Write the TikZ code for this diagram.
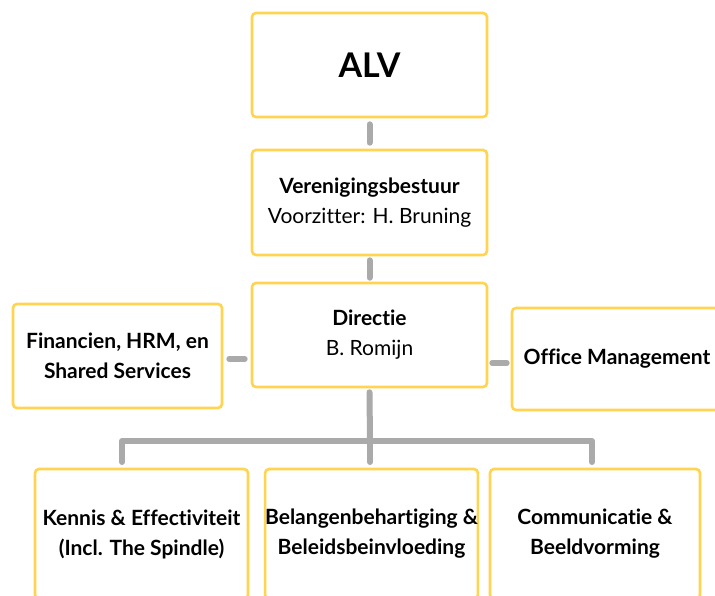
\documentclass[tikz,border=0pt]{standalone}
\usepackage{fontspec}
\setmainfont[Ligatures={NoCommon}]{Lato}
\definecolor{boxyellow}{HTML}{FFD451}
\definecolor{linegray}{HTML}{AAAAAA}
\tikzset{
  orgbox/.style={draw=boxyellow, line width=2.6pt, rounded corners=4pt, fill=white, align=center, inner sep=0pt, font=\fontsize{21}{30}\selectfont},
  conn/.style={draw=linegray, line width=6pt, line cap=round, line join=round},
}
\begin{document}
\begin{tikzpicture}[x=1pt,y=-1pt]
\useasboundingbox (0,0) rectangle (715,596);
\clip (0,0) rectangle (715,596);
\fill[white] (0,0) rectangle (715,596);
% nodes
\node[orgbox, minimum width=235, minimum height=104] (alv) at (369.5,65) {\fontsize{34}{40}\selectfont\bfseries ALV};
\node[orgbox, minimum width=235, minimum height=105] (vb) at (369.5,202.5) {\textbf{Verenigingsbestuur}\\Voorzitter: H. Bruning};
\node[orgbox, minimum width=235, minimum height=104] (dir) at (369.5,335) {\textbf{Directie}\\B. Romijn};
\node[orgbox, minimum width=209, minimum height=104] (fin) at (117.5,356) {\bfseries Financien, HRM, en\\\bfseries Shared Services};
\node[orgbox, minimum width=210, minimum height=102] (om) at (617,359) {\bfseries Office Management};
\node[orgbox, minimum width=213, minimum height=130] (ke) at (141.5,534) {\bfseries Kennis \& Effectiviteit\\\bfseries (Incl. The Spindle)};
\node[orgbox, minimum width=209, minimum height=130] (bb) at (371.5,534) {\bfseries Belangenbehartiging \&\\\bfseries Beleidsbeinvloeding};
\node[orgbox, minimum width=210, minimum height=130] (cb) at (595,534) {\bfseries Communicatie \&\\\bfseries Beeldvorming};
% connectors
\coordinate (bus) at (370,441);
\draw[conn] ([yshift=-6pt]alv.south) -- ([yshift=6pt]vb.north);
\draw[conn] ([yshift=-4pt]vb.south) -- ([yshift=4pt]dir.north);
\draw[conn] ([xshift=-6pt]dir.west |- 0,359) -- ([xshift=6pt]fin.east |- 0,359);
\draw[conn] ([xshift=4pt]dir.east |- 0,363) -- ([xshift=-4pt]om.west |- 0,363);
\draw[conn] ([yshift=-4pt]dir.south) -- (bus);
\draw[conn] (122,462) |- (bus);
\draw[conn] (592,462) |- (bus);
\draw[conn] (bus) -- (370,462);
\end{tikzpicture}
\end{document}
